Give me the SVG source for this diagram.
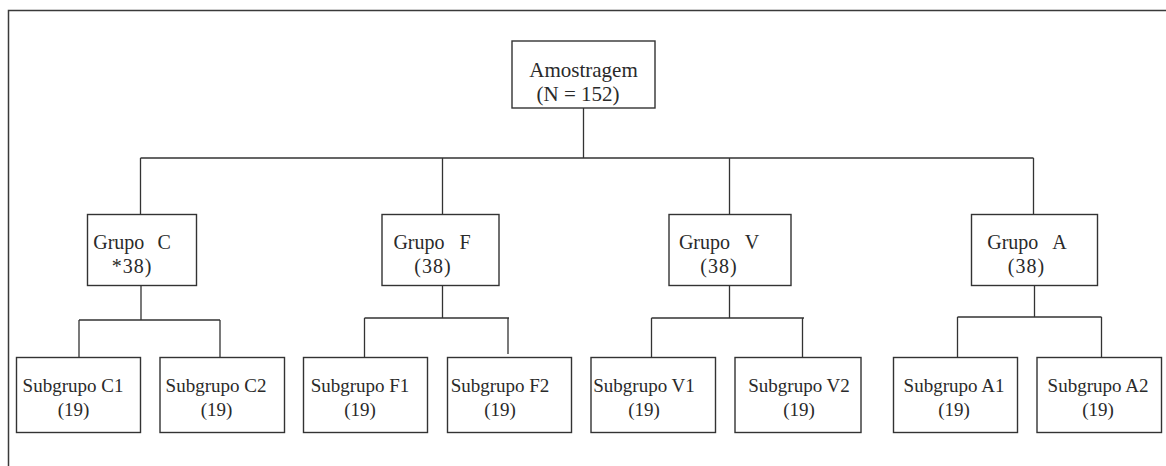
<svg xmlns="http://www.w3.org/2000/svg" width="1166" height="466" viewBox="0 0 1166 466">
<style>
.box{fill:#fff;stroke:#333;stroke-width:1.4}
.ln{fill:none;stroke:#333;stroke-width:1.3}
.frame{fill:none;stroke:#3a3a3a;stroke-width:1.5}
text{font-family:"Liberation Serif","Times New Roman",serif;fill:#2a2a2a;text-anchor:middle}
.root{font-size:21px}
.grp{font-size:20px}
.sub{font-size:19px}
</style>
<rect width="1166" height="466" fill="#fff"/>
<path class="frame" d="M8.5,466 V10.5 H1166"/>
<g id="connectors">
<path class="ln" d="M583.5,108 V158 M140.5,158 H1033.5 M140.5,158 V214 M442.5,158 V214 M729.5,158 V214 M1033.5,158 V214"/>
<path class="ln" d="M141,286 V320 M79,320 H220 M79,320 V357 M220,320 V357"/>
<path class="ln" d="M442.5,286 V318 M364.5,318 H509 M364.5,318 V357 M508,318 V354"/>
<path class="ln" d="M729.5,286 V318 M651.5,318 H804 M651.5,318 V357 M802.5,318 V357"/>
<path class="ln" d="M1034.5,286 V317 M957.5,317 H1101.5 M957.5,317 V357 M1101.5,317 V357"/>
</g>
<g id="root">
<rect class="box" x="512" y="41" width="143" height="67"/>
<text class="root" x="583.5" y="77">Amostragem</text>
<text class="root" x="578" y="101">(N = 152)</text>
</g>
<g id="grupoC">
<rect class="box" x="87.5" y="214.5" width="109" height="71"/>
<text class="grp" x="132" y="249">Grupo <tspan dx="8">C</tspan></text>
<text class="grp" x="132" y="273" letter-spacing="1">*38)</text>
</g>
<g id="grupoF">
<rect class="box" x="382" y="214.5" width="117" height="71"/>
<text class="grp" x="432" y="249">Grupo <tspan dx="10">F</tspan></text>
<text class="grp" x="433" y="273" letter-spacing="1">(38)</text>
</g>
<g id="grupoV">
<rect class="box" x="669" y="214.5" width="122" height="71"/>
<text class="grp" x="719" y="249">Grupo <tspan dx="10">V</tspan></text>
<text class="grp" x="719" y="273" letter-spacing="1">(38)</text>
</g>
<g id="grupoA">
<rect class="box" x="971.5" y="214.5" width="126" height="71"/>
<text class="grp" x="1027" y="249">Grupo <tspan dx="10">A</tspan></text>
<text class="grp" x="1026.5" y="273" letter-spacing="1">(38)</text>
</g>
<g id="subC1">
<rect class="box" x="16.5" y="357.5" width="124" height="75"/>
<text class="sub" x="73" y="392">Subgrupo C1</text>
<text class="sub" x="73.5" y="416">(19)</text>
</g>
<g id="subC2">
<rect class="box" x="160" y="357.5" width="124.5" height="75"/>
<text class="sub" x="216" y="392">Subgrupo C2</text>
<text class="sub" x="216.5" y="416">(19)</text>
</g>
<g id="subF1">
<rect class="box" x="303.5" y="357.5" width="124" height="75"/>
<text class="sub" x="360" y="392">Subgrupo F1</text>
<text class="sub" x="360" y="416">(19)</text>
</g>
<g id="subF2">
<rect class="box" x="447.5" y="357.5" width="124" height="75"/>
<text class="sub" x="500" y="392">Subgrupo F2</text>
<text class="sub" x="500" y="416">(19)</text>
</g>
<g id="subV1">
<rect class="box" x="591" y="357.5" width="124.5" height="75"/>
<text class="sub" x="644" y="392">Subgrupo V1</text>
<text class="sub" x="644" y="416">(19)</text>
</g>
<g id="subV2">
<rect class="box" x="735" y="357.5" width="126" height="75"/>
<text class="sub" x="799" y="392">Subgrupo V2</text>
<text class="sub" x="799" y="416">(19)</text>
</g>
<g id="subA1">
<rect class="box" x="893.5" y="357.5" width="124" height="75"/>
<text class="sub" x="954" y="392">Subgrupo A1</text>
<text class="sub" x="954" y="416">(19)</text>
</g>
<g id="subA2">
<rect class="box" x="1037" y="357.5" width="124.5" height="75"/>
<text class="sub" x="1098" y="392">Subgrupo A2</text>
<text class="sub" x="1098" y="416">(19)</text>
</g>
</svg>
